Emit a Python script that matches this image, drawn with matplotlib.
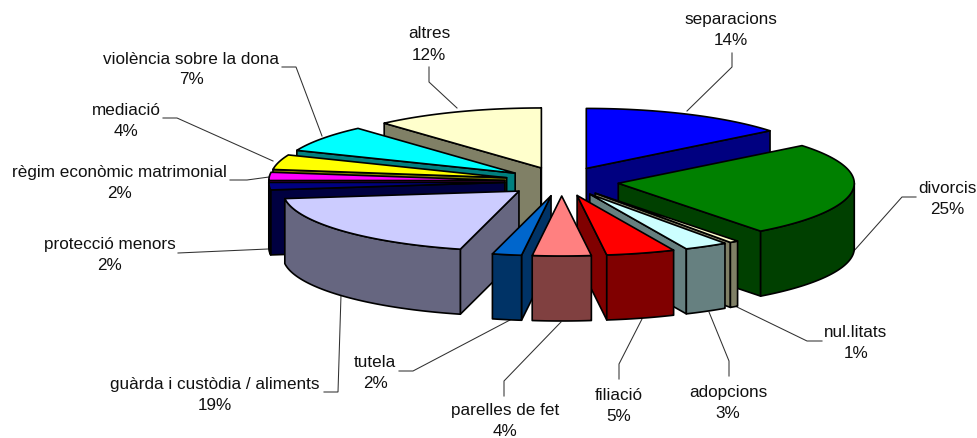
import numpy as np
import matplotlib
matplotlib.use('Agg')
import matplotlib.pyplot as plt
from matplotlib.patches import Polygon
from matplotlib.colors import to_rgb

plt.rcParams['font.family'] = ['Liberation Sans', 'DejaVu Sans']

# Slices, clockwise from 12 o'clock. Labels show these rounded to whole percents,
# the decimals are read from the slice edges in the picture
labels = ['separacions', 'divorcis', 'nul.litats', 'adopcions', 'filiació',
          'parelles de fet', 'tutela', 'guàrda i custòdia / aliments',
          'protecció menors', 'règim econòmic matrimonial', 'mediació',
          'violència sobre la dona', 'altres']
values = [14.2, 25.49, 0.6, 3.0, 4.7, 4.0, 2.0, 19.0, 2.0, 2.2, 4.0, 7.2, 11.6]
colors = ['#0000FF', '#008000', '#FFFFCC', '#CCFFFF', '#FF0000', '#FF8080', '#0066CC',
          '#CCCCFF', '#000080', '#FF00FF', '#FFFF00', '#00FFFF', '#FFFFCC']

# Label centres and leader lines, in pixels of the 978x439 picture
label_pos = [(731, 30), (947, 199.5), (856, 343.5), (728, 403.5), (619, 406.5), (505, 421.5),
             (375, 373), (215, 395), (110, 255), (119, 183), (126, 121.5),
             (191, 69.5), (429, 44.5)]
leaders = [
    [(732, 54), (732, 68), (687, 112)],
    [(916, 198), (902, 198), (853, 253)],
    [(822, 342), (807, 342), (737, 308)],
    [(729, 377), (729, 362), (709, 313)],
    [(619, 380), (619, 365), (642, 320)],
    [(504, 397), (504, 382), (561, 323)],
    [(399, 372), (413, 372), (510, 321)],
    [(324, 393), (338, 393), (341, 296)],
    [(178, 254), (268, 250)],
    [(230, 181), (247, 181), (269, 178)],
    [(163, 119), (177, 119), (273, 162)],
    [(282, 68), (296, 68), (322, 137)],
    [(429, 68), (429, 83), (457, 109)],
]

# Pie geometry
cx, cy = 561.7, 182.5
rx, ry = 236, 60
depth = 65
explode = 57
lw = 1.2


def rim(theta, ox, oy):
    return np.column_stack([ox + rx * np.sin(theta), oy - ry * np.cos(theta)])


def shade(c):
    return tuple(v / 2 for v in to_rgb(c))


def wall(ax, pts, c, z):
    # extrude a top edge downwards
    pts = np.asarray(pts)
    poly = np.vstack([pts, (pts + [0, depth])[::-1]])
    ax.add_patch(Polygon(poly, closed=True, facecolor=shade(c), edgecolor='black',
                         linewidth=lw, joinstyle='round', zorder=z))


fig = plt.figure(figsize=(9.78, 4.39), dpi=100)
ax = fig.add_axes([0, 0, 1, 1])
ax.set_xlim(0, 978)
ax.set_ylim(439, 0)
ax.axis('off')

edges = 2 * np.pi * np.cumsum([0] + values) / sum(values)
mids = (edges[:-1] + edges[1:]) / 2

# back slices first
order = np.argsort(-np.cos(mids))
for rank, i in enumerate(order):
    t0, t1 = edges[i], edges[i + 1]
    ox = cx + explode * np.sin(mids[i])
    oy = cy - explode * ry / rx * np.cos(mids[i])
    apex = (ox, oy)
    z = 2 + rank
    arc = rim(np.linspace(t0, t1, 80), ox, oy)

    if np.sin(t0) < 0:
        wall(ax, [apex, arc[0]], colors[i], z)
    if np.sin(t1) > 0:
        wall(ax, [arc[-1], apex], colors[i], z)
    # the outer wall shows only on the near half of the ellipse
    a0, a1 = max(t0, np.pi / 2), min(t1, 3 * np.pi / 2)
    if a1 > a0:
        wall(ax, rim(np.linspace(a0, a1, 80), ox, oy), colors[i], z)
    ax.add_patch(Polygon(np.vstack([[apex], arc]), closed=True, facecolor=colors[i],
                         edgecolor='black', linewidth=lw, joinstyle='round', zorder=z))

for line in leaders:
    xs, ys = zip(*line)
    ax.plot(xs, ys, color='#303030', linewidth=0.75, zorder=1, solid_joinstyle='miter')

for name, val, (x, y) in zip(labels, values, label_pos):
    ax.text(x, y, f'{name}\n{val:.0f}%', ha='center', va='center', fontsize=12.3,
            color='#111111', linespacing=1.5, zorder=50)

fig.savefig('out.png', dpi=100)
